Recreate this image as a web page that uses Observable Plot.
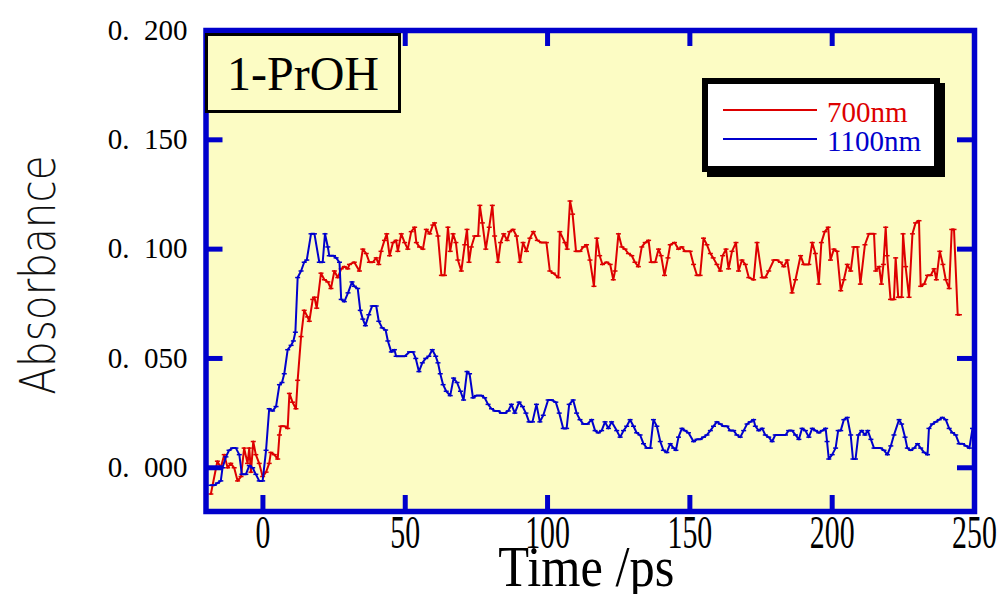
<!DOCTYPE html>
<html><head><meta charset="utf-8">
<script src="https://cdn.jsdelivr.net/npm/d3@7"></script>
<script src="https://cdn.jsdelivr.net/npm/@observablehq/plot@0.6"></script>
<style>
body{margin:0;background:#fff}
#wrap{position:relative;width:1000px;height:594px}
#tag{position:absolute;left:205px;top:33px;width:196px;height:80px;box-sizing:border-box;border:3px solid #000;background:#fcfcc4;font:48px "Liberation Serif";color:#000;display:flex;align-items:center;justify-content:center}
#legend{position:absolute;left:702px;top:78px;width:238px;height:94px;box-sizing:border-box;border:6px solid #000;background:#fff;box-shadow:5px 5px 0 #000}
.row{position:absolute;left:0;height:29px;line-height:29px;font:29px "Liberation Serif";white-space:nowrap;width:220px}
.sw{position:absolute;left:15px;width:94px;top:13.5px;height:2px}
.lab{position:absolute;left:119px;top:0}
</style></head><body><div id="wrap"></div>
<script>
// ---- data ----
const seriesNames = ["700nm", "1100nm"];
const seriesColors = ["#dd0000", "#0000cc"];
const panelLabel = "1-PrOH";
const xTicks = [0, 50, 100, 150, 200, 250];
const xTickLabels = ["0", "50", "100", "150", "200", "250"];
const yTicks = [0, 0.05, 0.1, 0.15, 0.2];
const yTickLabels = ["0.\u2002000", "0.\u2002050", "0.\u2002100", "0.\u2002150", "0.\u2002200"];
const xTitle = "Time /ps";
const yTitle = "Absorbance";

const t700 = [-18.3,-16.0,-14.8,-13.6,-12.4,-11.3,-10.1,-8.9,-7.7,-6.6,-5.4,-4.8,-4.2,-3.4,-2.5,-1.3,-0.1,1.1,2.2,2.8,4.0,5.2,5.8,6.3,7.5,8.7,9.3,10.4,11.6,12.2,13.4,14.5,15.7,16.3,17.5,18.1,18.9,20.4,21.6,22.8,23.9,25.1,26.3,27.5,28.6,29.8,30.4,32.1,33.9,35.1,36.3,37.4,38.6,39.8,40.7,41.5,42.7,43.5,44.5,45.7,46.8,47.4,48.6,49.8,50.9,52.1,53.3,53.9,55.0,56.2,57.4,58.6,59.7,60.3,61.5,62.7,63.8,65.0,65.8,66.8,67.8,68.5,69.7,70.9,71.7,72.4,73.2,74.4,75.6,76.2,77.1,78.3,79.5,80.6,81.4,82.6,83.5,84.6,85.8,86.7,87.9,89.1,90.3,91.4,92.6,93.8,95.0,96.4,97.9,99.6,100.8,102.0,103.8,104.3,106.1,106.9,107.9,108.8,110.0,111.4,112.6,113.7,114.9,116.3,117.3,118.3,119.3,120.8,122.0,123.1,123.7,124.9,126.1,127.2,128.4,129.6,130.7,131.9,133.1,134.3,135.5,136.4,137.8,139.0,139.9,141.1,142.3,143.1,144.6,146.0,147.2,148.3,150.1,151.3,152.5,153.6,154.8,156.0,157.2,158.2,159.5,160.7,161.5,162.7,163.6,164.8,166.2,167.1,168.3,169.5,170.7,172.4,173.6,175.4,176.5,177.7,179.5,180.6,181.8,183.0,184.2,185.9,187.1,188.9,190.0,191.8,193.0,194.1,195.3,196.2,197.4,198.6,199.4,200.6,201.7,203.0,204.1,205.3,206.5,207.6,208.8,209.9,211.5,212.9,214.7,215.3,216.5,217.3,218.0,218.8,219.3,220.5,221.7,222.3,223.2,224.4,224.9,225.8,227.0,228.2,229.3,230.5,231.1,232.3,233.5,234.6,235.8,236.6,237.8,238.9,239.9,241.1,242.0,242.8,244.1,244.7];
const a700 = [-0.012,0.003,0.000,0.006,0.000,0.002,0.000,-0.006,-0.004,0.009,0.002,0.009,-0.002,0.012,0.006,0.002,-0.004,-0.002,0.002,0.007,0.006,0.004,0.015,0.019,0.019,0.018,0.034,0.030,0.027,0.040,0.060,0.072,0.069,0.067,0.077,0.078,0.073,0.089,0.086,0.085,0.082,0.090,0.087,0.091,0.092,0.091,0.093,0.094,0.090,0.100,0.098,0.094,0.094,0.096,0.093,0.099,0.104,0.107,0.097,0.103,0.104,0.099,0.107,0.103,0.100,0.108,0.110,0.103,0.101,0.100,0.109,0.107,0.111,0.112,0.106,0.088,0.088,0.110,0.099,0.107,0.103,0.095,0.090,0.102,0.109,0.094,0.101,0.106,0.106,0.120,0.112,0.100,0.110,0.120,0.106,0.094,0.103,0.107,0.104,0.108,0.109,0.106,0.094,0.103,0.099,0.105,0.108,0.104,0.103,0.103,0.090,0.089,0.087,0.108,0.103,0.100,0.122,0.116,0.099,0.099,0.101,0.102,0.095,0.083,0.105,0.097,0.093,0.094,0.093,0.086,0.090,0.107,0.101,0.100,0.098,0.097,0.094,0.092,0.101,0.103,0.104,0.094,0.094,0.100,0.097,0.088,0.096,0.102,0.103,0.100,0.101,0.099,0.099,0.093,0.088,0.088,0.105,0.102,0.098,0.096,0.093,0.090,0.097,0.100,0.091,0.099,0.103,0.090,0.095,0.093,0.087,0.086,0.103,0.087,0.087,0.090,0.095,0.095,0.094,0.092,0.095,0.080,0.086,0.097,0.093,0.093,0.103,0.098,0.084,0.103,0.108,0.110,0.095,0.100,0.099,0.081,0.086,0.093,0.090,0.101,0.101,0.084,0.102,0.107,0.107,0.090,0.092,0.084,0.093,0.110,0.097,0.077,0.077,0.096,0.078,0.078,0.107,0.092,0.078,0.107,0.112,0.113,0.083,0.084,0.088,0.088,0.091,0.086,0.099,0.093,0.086,0.082,0.109,0.109,0.070,0.070];

const t1100 = [-18.3,-17.1,-16.0,-14.8,-14.2,-13.0,-11.9,-10.7,-9.5,-8.3,-7.4,-6.0,-4.8,-3.6,-2.5,-1.3,-0.1,1.1,2.2,3.4,4.6,5.8,6.7,7.5,8.7,9.9,10.7,11.4,12.2,13.4,14.5,15.4,16.9,18.1,19.8,21.0,21.8,22.8,23.3,24.8,25.7,26.9,27.5,28.6,29.9,31.3,32.1,33.3,34.2,35.1,36.0,37.2,38.4,39.8,40.7,41.9,43.1,43.9,45.1,46.2,46.8,48.2,49.8,51.5,52.7,53.7,54.8,56.0,57.2,58.3,59.5,60.7,61.5,62.3,63.3,64.4,65.8,67.0,68.2,69.4,70.5,71.7,72.6,73.8,75.0,76.8,77.9,79.1,80.3,81.5,82.6,83.8,85.0,86.2,87.3,88.5,90.0,91.2,92.4,93.5,94.7,96.1,97.3,98.5,100.2,101.4,102.9,104.1,105.5,106.7,107.6,109.0,110.2,111.4,112.6,114.0,115.5,116.7,117.8,119.0,120.2,121.4,122.5,124.3,125.5,126.7,127.8,129.0,130.2,131.3,132.5,133.7,134.9,136.1,137.2,138.4,139.6,140.7,141.9,143.1,144.3,145.1,146.0,147.2,148.3,149.5,151.3,152.5,153.6,154.8,156.0,157.2,158.3,159.5,160.7,161.9,163.0,164.2,165.4,166.5,167.7,168.9,170.1,171.2,172.4,173.0,174.2,175.4,176.5,177.7,178.9,180.0,181.2,182.4,183.6,184.7,185.9,187.1,188.3,189.4,190.6,191.8,193.0,194.2,195.3,196.5,197.7,198.2,198.8,200.0,201.2,202.1,203.0,204.1,205.3,206.5,207.3,208.2,209.2,210.4,211.5,212.5,213.6,214.7,215.9,217.0,218.2,219.4,220.6,221.7,223.5,224.4,225.6,226.4,227.6,228.8,230.0,231.1,232.3,233.5,234.0,235.2,236.4,237.6,238.7,239.9,241.1,242.3,243.4,244.6,245.8,247.0,248.2,249.3];
const a1100 = [-0.008,-0.008,-0.007,-0.006,0.000,0.005,0.008,0.009,0.009,0.006,-0.003,-0.003,0.001,0.000,-0.003,-0.006,-0.006,0.008,0.027,0.026,0.028,0.038,0.039,0.043,0.054,0.056,0.058,0.062,0.087,0.090,0.094,0.095,0.107,0.107,0.094,0.094,0.107,0.101,0.097,0.097,0.096,0.094,0.077,0.076,0.080,0.085,0.083,0.082,0.072,0.068,0.065,0.070,0.074,0.074,0.067,0.064,0.063,0.058,0.053,0.054,0.051,0.051,0.051,0.053,0.053,0.050,0.044,0.048,0.050,0.051,0.054,0.051,0.048,0.043,0.038,0.035,0.033,0.041,0.039,0.035,0.031,0.044,0.043,0.032,0.033,0.033,0.032,0.029,0.027,0.026,0.026,0.025,0.025,0.026,0.029,0.025,0.030,0.028,0.025,0.021,0.021,0.029,0.021,0.024,0.031,0.031,0.030,0.025,0.018,0.018,0.029,0.031,0.025,0.022,0.020,0.020,0.022,0.017,0.016,0.017,0.021,0.018,0.021,0.017,0.014,0.017,0.019,0.022,0.019,0.016,0.015,0.011,0.009,0.009,0.022,0.019,0.012,0.008,0.007,0.011,0.009,0.008,0.014,0.018,0.017,0.016,0.012,0.013,0.013,0.014,0.015,0.017,0.019,0.021,0.020,0.019,0.019,0.017,0.017,0.015,0.014,0.017,0.020,0.021,0.022,0.019,0.017,0.018,0.015,0.014,0.012,0.015,0.015,0.015,0.015,0.017,0.017,0.015,0.013,0.018,0.017,0.014,0.018,0.017,0.016,0.017,0.018,0.012,0.004,0.006,0.009,0.017,0.017,0.022,0.023,0.015,0.004,0.004,0.015,0.017,0.015,0.017,0.013,0.009,0.009,0.009,0.008,0.006,0.010,0.015,0.022,0.020,0.014,0.009,0.008,0.009,0.011,0.009,0.007,0.006,0.018,0.020,0.021,0.022,0.023,0.022,0.018,0.016,0.015,0.011,0.011,0.010,0.009,0.018];

// ---- build tables ----
const d700 = t700.map((t, i) => ({t, a: a700[i]}));
const d1100 = t1100.map((t, i) => ({t, a: a1100[i]}));

const W = 1000, H = 594, mL = 205.5, mR = 26, mT = 30, mB = 83;
const FW = W - mL - mR, FH = H - mT - mB;
const frameBlue = "#0000cc", plotBg = "#fcfcc4";
const tickLen = 16;

const dash = {draw(ctx, size) { const r = Math.sqrt(size / Math.PI); ctx.moveTo(-r, 0); ctx.lineTo(r, 0); }};
const xLab = new Map(xTicks.map((d, i) => [d, xTickLabels[i]]));
const yLab = new Map(yTicks.map((d, i) => [d, yTickLabels[i]]));

const chart = Plot.plot({
  width: W, height: H,
  marginLeft: mL, marginRight: mR, marginTop: mT, marginBottom: mB,
  x: {domain: [-20, 250], label: null},
  y: {domain: [-0.02, 0.2], label: null},
  style: {background: "transparent", color: "#000", overflow: "visible"},
  marks: [
    Plot.frame({fill: plotBg, stroke: null}),
    Plot.line(d700, {x: "t", y: "a", stroke: seriesColors[0], strokeWidth: 2}),
    Plot.dot(d700, {x: "t", y: "a", symbol: dash, r: 2.5, fill: "none", stroke: seriesColors[0], strokeWidth: 1.5}),
    Plot.line(d1100, {x: "t", y: "a", stroke: seriesColors[1], strokeWidth: 2}),
    Plot.dot(d1100, {x: "t", y: "a", symbol: dash, r: 2.5, fill: "none", stroke: seriesColors[1], strokeWidth: 1.5}),
    // inward ticks on all four sides
    Plot.ruleX(xTicks.slice(0, -1), {x: d => d, stroke: frameBlue, strokeWidth: 5, insetTop: FH - tickLen}),
    Plot.ruleX(xTicks.slice(0, -1), {x: d => d, stroke: frameBlue, strokeWidth: 5, insetBottom: FH - tickLen}),
    Plot.ruleY(yTicks.slice(0, -1), {y: d => d, stroke: frameBlue, strokeWidth: 5, insetRight: FW - tickLen - 1}),
    Plot.ruleY(yTicks.slice(0, -1), {y: d => d, stroke: frameBlue, strokeWidth: 5, insetLeft: FW - tickLen - 1}),
    Plot.frame({stroke: frameBlue, strokeWidth: 5.5}),
    Plot.axisX(xTicks, {tickSize: 0, tickPadding: 4, label: null, tickFormat: d => xLab.get(d), fontSize: 46, fontFamily: "Liberation Serif", fill: "#000"}),
    Plot.axisY(yTicks, {tickSize: 0, tickPadding: 18.5, label: null, tickFormat: d => yLab.get(d), fontSize: 29, fontFamily: "Liberation Serif", fill: "#000"}),
    Plot.text([xTitle], {text: d => d, frameAnchor: "bottom", textAnchor: "middle", lineAnchor: "top", dy: 35, dx: -4, fontSize: 56, fontFamily: "Liberation Serif", fill: "#000"}),
    Plot.text([yTitle], {text: d => d, frameAnchor: "left", textAnchor: "middle", rotate: -90, lineAnchor: "middle", dx: -167, dy: 4, fontSize: 50, fontFamily: "DejaVu Sans", fontWeight: 300, fill: "#111"})
  ]
});

function squeeze(nodes, s) {
  nodes.forEach(el => {
    const t = el.getAttribute("transform") || "";
    const x = parseFloat(el.getAttribute("x")) || 0;
    el.setAttribute("transform", `${t} translate(${x},0) scale(${s},1) translate(${-x},0)`);
  });
}
squeeze([...chart.querySelectorAll('g[aria-label="x-axis tick label"] text')], 0.65);
const allText = [...chart.querySelectorAll("text")];
squeeze(allText.filter(e => e.textContent === xTitle), 0.9);
squeeze(allText.filter(e => e.textContent === yTitle), 0.81);

const wrap = document.getElementById("wrap");
wrap.appendChild(chart);

const tag = document.createElement("div");
tag.id = "tag"; tag.textContent = panelLabel;
wrap.appendChild(tag);

const legend = document.createElement("div");
legend.id = "legend";
seriesNames.forEach((name, i) => {
  const row = document.createElement("div");
  row.className = "row";
  row.style.top = (11.5 + 29 * i) + "px";
  const sw = document.createElement("div");
  sw.className = "sw"; sw.style.background = seriesColors[i];
  const lab = document.createElement("span");
  lab.className = "lab"; lab.style.color = seriesColors[i]; lab.textContent = name;
  row.appendChild(sw); row.appendChild(lab);
  legend.appendChild(row);
});
wrap.appendChild(legend);
</script></body></html>
